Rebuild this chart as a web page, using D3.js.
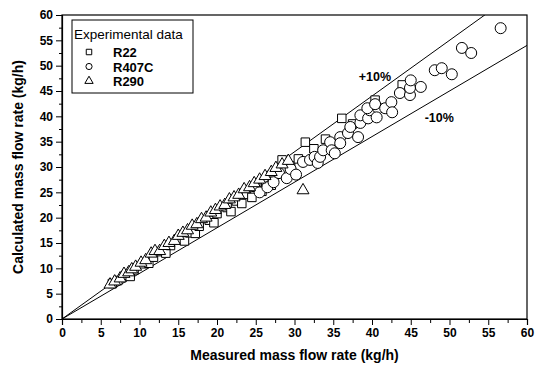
<!DOCTYPE html>
<html>
<head>
<meta charset="utf-8">
<script src="https://cdn.jsdelivr.net/npm/d3@7"></script>
<style>
  body { margin: 0; background: #fff; }
  text { font-family: "Liberation Sans", Arial, sans-serif; }
</style>
</head>
<body>
<svg id="chart"></svg>
<script>
// R22 (squares): measured, calculated
const r22 = [
    [6.5, 7.0], [7.2, 7.6], [8.2, 8.6], [8.8, 8.4], [9.3, 9.7], [10.5, 10.9], [11.2, 11.0],
    [11.8, 12.2], [12.8, 13.3], [13.4, 13.0], [14.0, 14.5], [15.2, 15.8], [15.8, 15.4],
    [16.5, 17.0], [17.2, 16.9], [17.7, 18.3], [19.0, 19.5], [19.6, 19.0], [20.0, 20.8],
    [21.3, 22.0], [21.8, 21.2], [22.5, 23.3], [23.2, 22.8], [23.8, 24.6], [24.5, 24.0],
    [25.0, 26.0], [25.8, 25.2], [26.3, 27.0], [27.0, 26.4], [27.5, 28.6], [28.4, 31.4],
    [29.5, 30.2], [30.5, 31.6], [31.4, 34.9], [32.5, 33.6], [34.0, 35.5], [36.1, 39.6],
    [37.5, 38.5], [40.4, 43.2], [43.9, 46.2]
];

// R407C (circles)
const r407c = [
    [25.5, 25.0], [26.5, 26.0], [27.3, 27.0], [28.0, 28.8], [29.0, 27.8], [29.5, 29.6],
    [30.2, 28.5], [31.1, 31.0], [32.0, 31.4], [32.6, 32.0], [33.0, 30.8], [33.3, 32.0],
    [33.7, 33.3], [34.6, 34.9], [34.8, 33.3], [35.2, 32.7], [35.9, 35.9], [35.9, 34.7],
    [36.9, 36.7], [37.2, 37.9], [38.2, 35.9], [38.5, 38.7], [38.5, 40.2], [39.5, 39.6],
    [39.7, 41.2], [40.8, 41.6], [39.4, 41.6], [40.4, 42.4], [41.7, 41.6], [42.5, 42.8],
    [42.6, 40.8], [40.6, 39.8], [43.6, 44.6], [44.9, 44.2], [44.9, 45.6], [45.0, 47.1],
    [46.3, 45.8], [48.1, 49.1], [49.0, 49.5], [50.3, 48.3], [51.6, 53.5], [52.8, 52.5],
    [56.6, 57.4]
];

// R290 (triangles)
const r290 = [
    [6.2, 6.8], [6.8, 7.4], [7.5, 8.0], [8.0, 8.9], [8.6, 9.2], [9.0, 9.8], [9.5, 10.3],
    [10.2, 11.1], [10.8, 11.6], [11.5, 12.9], [12.0, 13.4], [12.6, 13.4], [13.2, 14.4],
    [13.8, 15.0], [14.5, 15.4], [15.0, 16.4], [15.6, 17.0], [16.2, 17.5], [16.8, 18.4],
    [17.4, 18.7], [18.0, 19.7], [18.6, 20.0], [19.2, 21.0], [19.8, 21.5], [20.4, 22.2],
    [21.0, 22.5], [21.6, 23.6], [22.2, 24.0], [22.8, 24.5], [23.5, 25.6], [24.2, 26.0],
    [24.8, 26.8], [25.5, 27.5], [26.2, 28.2], [27.0, 29.0], [27.6, 29.8], [28.4, 30.5],
    [29.2, 31.2], [31.1, 25.4]
];

// +/-10% deviation lines
const bands = [
    { factor: 1.1, label: "+10%", lx: 38.3, ly: 47.0 },
    { factor: 0.9, label: "-10%", lx: 46.8, ly: 38.9 }
];

const xTicks = d3.range(0, 61, 5);
const yTicks = d3.range(0, 61, 5);
const minorTicks = d3.range(2.5, 60, 5);

const legendItems = [
    { shape: d3.symbolSquare, text: "R22" },
    { shape: d3.symbolCircle, text: "R407C" },
    { shape: d3.symbolTriangle, text: "R290" }
];

const width = 541, height = 368;
const margin = { top: 15, right: 14, bottom: 49, left: 62 };
const w = width - margin.left - margin.right;
const h = height - margin.top - margin.bottom;

const svg = d3.select("#chart").attr("width", width).attr("height", height);

const x = d3.scaleLinear().domain([0, 60]).range([0, w]);
const y = d3.scaleLinear().domain([0, 60]).range([h, 0]);

const g = svg.append("g").attr("transform", `translate(${margin.left},${margin.top})`);

g.append("clipPath").attr("id", "clip")
    .append("rect").attr("width", w).attr("height", h);

// deviation lines
const line = d3.line().x(d => x(d[0])).y(d => y(d[1]));
g.append("g").attr("clip-path", "url(#clip)")
    .selectAll("path")
    .data(bands)
    .enter()
    .append("path")
    .attr("d", d => line([[0, 0], [60, 60 * d.factor]]))
    .attr("fill", "none")
    .attr("stroke", "#000")
    .attr("stroke-width", 1);

g.selectAll(".bandlabel")
    .data(bands)
    .enter()
    .append("text")
    .attr("x", d => x(d.lx))
    .attr("y", d => y(d.ly))
    .text(d => d.label)
    .style("font-size", "12.5px")
    .style("font-weight", "bold");

// points
function drawPoints(data, shape, size) {
    g.append("g")
        .selectAll("path")
        .data(data)
        .enter()
        .append("path")
        .attr("transform", d => `translate(${x(d[0])},${y(d[1])})`)
        .attr("d", d3.symbol().type(shape).size(size))
        .attr("fill", "#fff")
        .attr("stroke", "#000")
        .attr("stroke-width", 1);
}
drawPoints(r22, d3.symbolSquare, 72);
drawPoints(r407c, d3.symbolCircle, 95);
drawPoints(r290, d3.symbolTriangle, 62);

// frame
g.append("rect")
    .attr("width", w).attr("height", h)
    .attr("fill", "none").attr("stroke", "#000").attr("stroke-width", 1.2);

// X axis
g.append("g").attr("transform", `translate(0,${h})`)
    .call(d3.axisBottom(x).tickValues(xTicks).tickSize(6).tickPadding(3));
g.append("g").attr("transform", `translate(0,${h})`)
    .call(d3.axisBottom(x).tickValues(minorTicks).tickSize(4).tickFormat(""))
    .select(".domain").remove();

// Y axis
g.append("g")
    .call(d3.axisLeft(y).tickValues(yTicks).tickSize(6).tickPadding(3));
g.append("g")
    .call(d3.axisLeft(y).tickValues(minorTicks).tickSize(3).tickFormat(""))
    .select(".domain").remove();

g.selectAll(".tick text")
    .style("font-size", "12px")
    .style("font-weight", "bold")
    .style("font-family", "Liberation Sans, Arial, sans-serif")
    .attr("fill", "#000");
g.selectAll(".domain").attr("stroke-width", 1.2);

// axis titles
svg.append("text")
    .attr("x", margin.left + w / 2)
    .attr("y", 360)
    .attr("text-anchor", "middle")
    .text("Measured mass flow rate (kg/h)")
    .style("font-size", "14px")
    .style("font-weight", "bold");

svg.append("text")
    .attr("transform", `translate(23,${margin.top + h / 2}) rotate(-90)`)
    .attr("text-anchor", "middle")
    .text("Calculated mass flow rate (kg/h)")
    .style("font-size", "14px")
    .style("font-weight", "bold");

// legend
const legend = g.append("g").attr("transform", "translate(10,5)");
legend.append("rect")
    .attr("width", 121).attr("height", 73)
    .attr("fill", "#fff").attr("stroke", "#000").attr("stroke-width", 1);
legend.append("text")
    .attr("x", 2).attr("y", 19)
    .text("Experimental data")
    .style("font-size", "13.5px");
const legendGroups = legend.selectAll(".item")
    .data(legendItems)
    .enter()
    .append("g")
    .attr("transform", (d, i) => `translate(0,${32 + i * 14.5})`);
legendGroups.append("path")
    .attr("transform", "translate(17,0)")
    .attr("d", d => d3.symbol().type(d.shape).size(30)())
    .attr("fill", "#fff")
    .attr("stroke", "#000");
legendGroups.append("text")
    .attr("x", 41).attr("y", 5)
    .text(d => d.text)
    .style("font-size", "13px")
    .style("font-weight", "bold");
</script>
</body>
</html>
